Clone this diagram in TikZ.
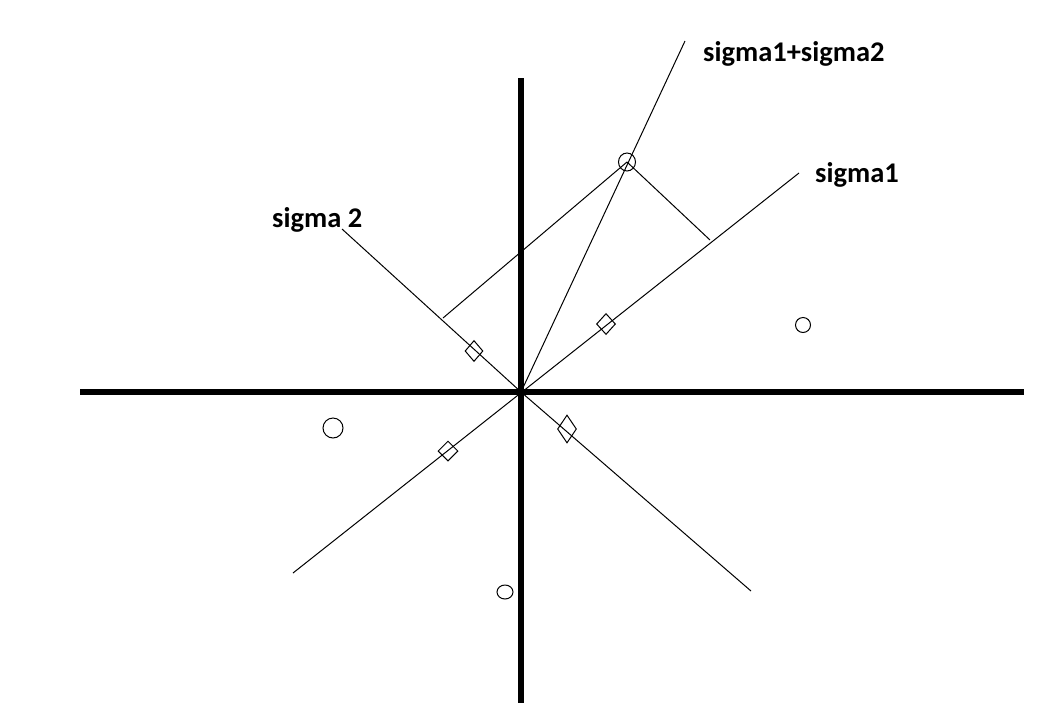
\documentclass[tikz,border=0pt]{standalone}
\usepackage{fontspec}
\setmainfont{Carlito}
\usetikzlibrary{shapes.geometric}
\begin{document}
\begin{tikzpicture}[x=1pt,y=-1pt,
  thinline/.style={line width=1pt},
  axis/.style={line width=5.5pt},
  ring/.style={ellipse,draw,line width=1pt,inner sep=0pt},
  rhomb/.style={diamond,draw,line width=1pt,inner sep=0pt},
  lbl/.style={font=\bfseries\fontsize{28.5}{30}\selectfont,inner sep=0pt,anchor=base west}]
\useasboundingbox[fill=white] (0,0) rectangle (1055,721);
% axes
\coordinate (xl) at (80,392);
\coordinate (xr) at (1024,392);
\coordinate (yt) at (521,78);
\coordinate (yb) at (521,703);
\coordinate (o) at (521,392);
\draw[axis] (xl) -- (xr);
\draw[axis] (yt) -- (yb);
% sigma lines
\coordinate (s1a) at (293,573);
\coordinate (s1b) at (799,173);
\coordinate (s2a) at (342,229);
\coordinate (s2b) at (751,591);
\coordinate (s12) at (685,41);
\coordinate (pa) at (443,318);
\coordinate (pb) at (710,240);
\draw[thinline] (s1a) -- (s1b);
\draw[thinline] (s2a) -- (o) -- (s2b);
\draw[thinline] (o) -- (s12);
% point and projections
\node[ring,minimum width=17pt,minimum height=18pt] (c1) at (627,162) {};
\draw[thinline] (c1.center) -- (pa);
\draw[thinline] (c1.center) -- (pb);
% other circles
\node[ring,minimum width=15pt,minimum height=15pt] (c2) at (803,325) {};
\node[ring,minimum width=20pt,minimum height=20pt] (c3) at (333,428) {};
\node[ring,minimum width=16pt,minimum height=14pt] (c4) at (505,592) {};
% diamonds
\node[rhomb,minimum width=19pt,minimum height=21pt] (d1) at (606,324) {};
\node[rhomb,minimum width=20pt,minimum height=20pt] (d2) at (448,451) {};
\node[rhomb,minimum width=18pt,minimum height=21pt] (d3) at (474,351) {};
\node[rhomb,minimum width=19pt,minimum height=28pt] (d4) at (567,429) {};
% labels
\node[lbl] (l12) at (703,61) {sigma1+sigma2};
\node[lbl] (l1) at (815,182) {sigma1};
\node[lbl] (l2) at (272,227) {sigma 2};
\end{tikzpicture}
\end{document}
